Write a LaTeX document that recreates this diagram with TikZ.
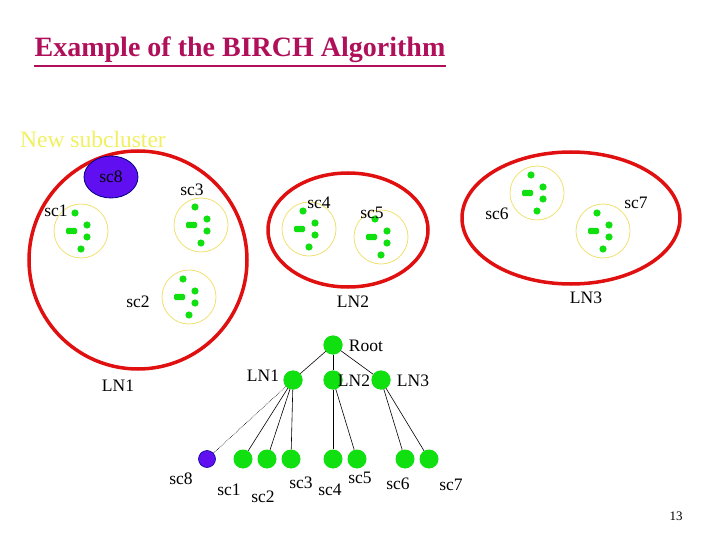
\documentclass[tikz,border=0pt]{standalone}
\usepackage{fontspec}
\setmainfont{Liberation Serif}
\usetikzlibrary{shapes.geometric}
\definecolor{ttl}{HTML}{B0105A}
\definecolor{nsc}{HTML}{F0F060}
\definecolor{grn}{HTML}{10E010}
\definecolor{vio}{HTML}{6010F0}
\definecolor{ccl}{HTML}{E01010}
\definecolor{ylw}{HTML}{F0E070}
\tikzset{
  lbl/.style={font=\fontsize{17.5}{17.5}\selectfont, inner sep=0pt},
  bigc/.style={draw=ccl, line width=3.5pt},
  smallc/.style={draw=ylw, line width=0.8pt, circle, minimum size=54pt, inner sep=0pt},
  pt/.style={fill=grn, draw=none},
  tn/.style={circle, fill=grn, minimum size=19pt, inner sep=0pt},
  tnv/.style={circle, fill=vio, draw=blue!60!black, line width=0.6pt, minimum size=17pt, inner sep=0pt},
  ed/.style={line width=0.6pt},
  pics/scpts/.style={code={
    \fill[pt] (-6,-18) circle (3.6);
    \fill[pt] (6,-6) circle (3.6);
    \fill[pt] (6,6) circle (3.6);
    \fill[pt] (0,18) circle (3.6);
    \fill[pt, rounded corners=1.5] (-15,-3.2) rectangle (-4,3.2);
  }}
}
\begin{document}
\begin{tikzpicture}[x=1pt,y=-1pt]
\useasboundingbox (0,0) rectangle (720,540);
\node[font=\fontsize{28}{28}\selectfont\bfseries, text=ttl, inner sep=0pt] (title) at (240,50) {Example of the BIRCH Algorithm};
\draw[ttl, line width=1.3pt] ([yshift=-3pt]title.south west) -- ([yshift=-3pt]title.south east);
\node[font=\fontsize{23.5}{23.5}\selectfont, text=nsc, inner sep=0pt] (newsc) at (93,139) {New subcluster};
% big clusters
\draw[bigc] (138,260) circle (109);
\draw[bigc] (348,230) ellipse (80 and 57);
\draw[bigc] (571,218) ellipse (109 and 66);
\node[ellipse, fill=vio, draw=blue!50!black, line width=0.8pt, minimum width=54pt, minimum height=42pt, inner sep=0pt, lbl] (sc8e) at (111,177) {sc8};
% subclusters
\node[smallc] (c1) at (81,231) {}; \pic at (81,231) {scpts};
\node[smallc] (c3) at (201,225) {}; \pic at (201,225) {scpts};
\node[smallc] (c2) at (189,297) {}; \pic at (189,297) {scpts};
\node[smallc] (c4) at (309,229) {}; \pic at (309,229) {scpts};
\node[smallc] (c5) at (381,237) {}; \pic at (381,237) {scpts};
\node[smallc] (c6) at (537,193) {}; \pic at (537,193) {scpts};
\node[smallc] (c7) at (603,231) {}; \pic at (603,231) {scpts};
\node[lbl] (l1) at (56,211) {sc1};
\node[lbl] (l3) at (192,190) {sc3};
\node[lbl] (l2) at (138,302) {sc2};
\node[lbl] (l4) at (319,203) {sc4};
\node[lbl] (l5) at (372,213) {sc5};
\node[lbl] (l6) at (497,214) {sc6};
\node[lbl] (l7) at (636,203) {sc7};
\node[lbl] (lln2) at (353,302) {LN2};
\node[lbl] (lln3) at (586,298) {LN3};
\node[lbl] (lln1) at (118,386) {LN1};
% tree
\node[tn] (root) at (333,345) {};
\node[tn] (n1) at (293,380) {};
\node[tn] (n2) at (333,380) {};
\node[tn] (n3) at (381,380) {};
\node[tnv] (t8) at (207,459) {};
\node[tn] (t1) at (243,459) {};
\node[tn] (t2) at (267,459) {};
\node[tn] (t3) at (291,459) {};
\node[tn] (t4) at (333,459) {};
\node[tn] (t5) at (357,459) {};
\node[tn] (t6) at (405,459) {};
\node[tn] (t7) at (429,459) {};
\draw[ed] (root.center) -- (n1); \draw[ed] (root) -- (n2); \draw[ed] (root.center) -- (n3);
\draw[ed, densely dotted] (n1.center) -- (t8);
\draw[ed] (n1.center) -- (t1); \draw[ed] (n1.center) -- (t2); \draw[ed] (n1) -- (t3);
\draw[ed] (n2) -- (t4); \draw[ed] (n2.center) -- (t5);
\draw[ed] (n3.center) -- (t6); \draw[ed] (n3.center) -- (t7);
\node[tn] at (root) {}; \node[tn] at (n1) {}; \node[tn] at (n3) {}; \node[tn] at (n2) {};
\node[lbl] at (366,346) {Root};
\node[lbl] at (263,376) {LN1};
\node[lbl] at (354,381) {LN2};
\node[lbl] at (413,381) {LN3};
\node[lbl] at (181,479) {sc8};
\node[lbl] at (229,490) {sc1};
\node[lbl] at (263,497) {sc2};
\node[lbl] at (301,483) {sc3};
\node[lbl] at (330,490) {sc4};
\node[lbl] at (360,478) {sc5};
\node[lbl] at (398,484) {sc6};
\node[lbl] at (451,485) {sc7};
\node[font=\fontsize{13}{13}\selectfont, inner sep=0pt] (pg) at (676,516) {13};
\end{tikzpicture}
\end{document}
